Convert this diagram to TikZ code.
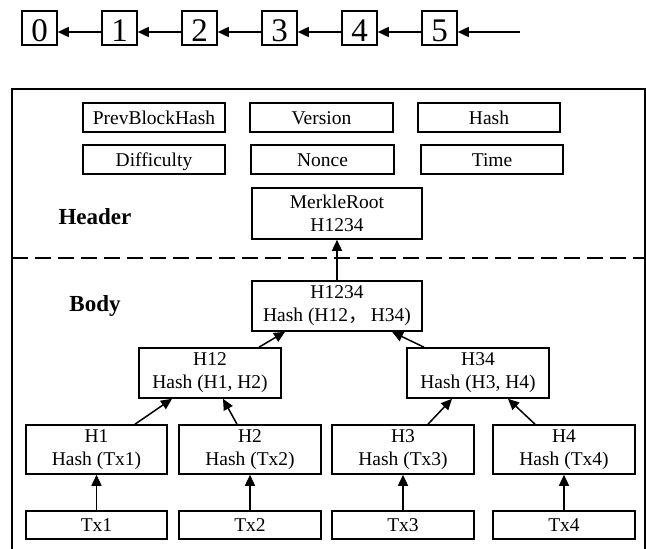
\documentclass[tikz,border=0pt]{standalone}
\usepackage{fontspec}
\setmainfont{Liberation Serif}
\newfontfamily\cjk{Noto Sans CJK SC}
\usetikzlibrary{arrows.meta}
\tikzset{
  box/.style={draw, line width=1.6pt, inner sep=0pt, align=center,
    font=\fontsize{19.5}{23}\selectfont},
  onebox/.style={box, text height=16pt, text depth=3pt},
  blk/.style={draw, line width=1.6pt, inner sep=0pt, minimum width=35pt,
    minimum height=34pt, text height=27pt, text depth=0pt,
    font=\fontsize{33}{36}\selectfont},
  arr/.style={line width=1.5pt, -{Triangle[length=11pt,width=10pt]}},
  lbl/.style={font=\fontsize{23}{26}\selectfont\bfseries}
}
\begin{document}
\begin{tikzpicture}[x=1pt,y=-1pt]
\useasboundingbox (0,0) rectangle (646,549);

% block chain
\foreach \i/\x in {0/39.5,1/119.5,2/199.5,3/279.5,4/359.5,5/439.5}
  \node[blk] (b\i) at (\x,28) {\i};
\coordinate (tail) at (520,32);
\draw[arr] ([yshift=-4pt]b1.west) -- ([yshift=-4pt]b0.east);
\draw[arr] ([yshift=-4pt]b2.west) -- ([yshift=-4pt]b1.east);
\draw[arr] ([yshift=-4pt]b3.west) -- ([yshift=-4pt]b2.east);
\draw[arr] ([yshift=-4pt]b4.west) -- ([yshift=-4pt]b3.east);
\draw[arr] ([yshift=-4pt]b5.west) -- ([yshift=-4pt]b4.east);
\draw[arr] (tail) -- ([yshift=-4pt]b5.east);

% block frame
\draw[line width=1.8pt] (12,549) -- (12,89) -- (645,89) -- (645,549);
\draw[line width=1.8pt, dash pattern=on 16pt off 7pt] (12,258) -- (645,258);

% header fields
\node[onebox, minimum width=142pt, minimum height=29pt] (prev) at (154,117.5) {PrevBlockHash};
\node[onebox, minimum width=143pt, minimum height=29pt] (ver) at (321.5,117.5) {Version};
\node[onebox, minimum width=142pt, minimum height=29pt] (hash) at (489,117.5) {Hash};
\node[onebox, minimum width=142pt, minimum height=29pt] (diff) at (154,159.5) {Difficulty};
\node[onebox, minimum width=143pt, minimum height=29pt] (nonce) at (322.5,159.5) {Nonce};
\node[onebox, minimum width=142pt, minimum height=29pt] (time) at (492,159.5) {Time};
\node[box, minimum width=170pt, minimum height=51pt] (root) at (337,213.5) {MerkleRoot\\H1234};
\node[lbl] (hdr) at (95,217) {Header};

% body: merkle tree
\node[lbl] (bdy) at (95,306) {Body};
\node[box, minimum width=170pt, minimum height=50pt] (h1234) at (337,306) {H1234\\Hash (H12{\cjk ，}\,H34)};
\node[box, minimum width=142pt, minimum height=50pt] (h12) at (210,373) {H12\\Hash (H1, H2)};
\node[box, minimum width=142pt, minimum height=50pt] (h34) at (478,373) {H34\\Hash (H3, H4)};
\node[box, minimum width=141pt, minimum height=49pt] (h1) at (96.5,449.5) {H1\\Hash (Tx1)};
\node[box, minimum width=142pt, minimum height=49pt] (h2) at (250,449.5) {H2\\Hash (Tx2)};
\node[box, minimum width=142pt, minimum height=49pt] (h3) at (403,449.5) {H3\\Hash (Tx3)};
\node[box, minimum width=142pt, minimum height=49pt] (h4) at (564,449.5) {H4\\Hash (Tx4)};
\node[onebox, minimum width=141pt, minimum height=28pt] (t1) at (96.5,525) {Tx1};
\node[onebox, minimum width=142pt, minimum height=28pt] (t2) at (250,525) {Tx2};
\node[onebox, minimum width=142pt, minimum height=28pt] (t3) at (403,525) {Tx3};
\node[onebox, minimum width=142pt, minimum height=28pt] (t4) at (564,525) {Tx4};

\draw[arr] (t1) -- (h1);
\draw[arr] (t2) -- (h2);
\draw[arr] (t3) -- (h3);
\draw[arr] (t4) -- (h4);
\draw[arr] ([xshift=38.5pt]h1.north) -- ([xshift=-38pt]h12.south);
\draw[arr] ([xshift=-13pt]h2.north) -- ([xshift=13pt]h12.south);
\draw[arr] ([xshift=25pt]h3.north) -- ([xshift=-26pt]h34.south);
\draw[arr] ([xshift=-29pt]h4.north) -- ([xshift=30pt]h34.south);
\draw[arr] ([xshift=49pt]h12.north) -- ([xshift=-52pt]h1234.south);
\draw[arr] ([xshift=-54pt]h34.north) -- ([xshift=55pt]h1234.south);
\draw[arr] (h1234) -- (root);
\end{tikzpicture}
\end{document}
